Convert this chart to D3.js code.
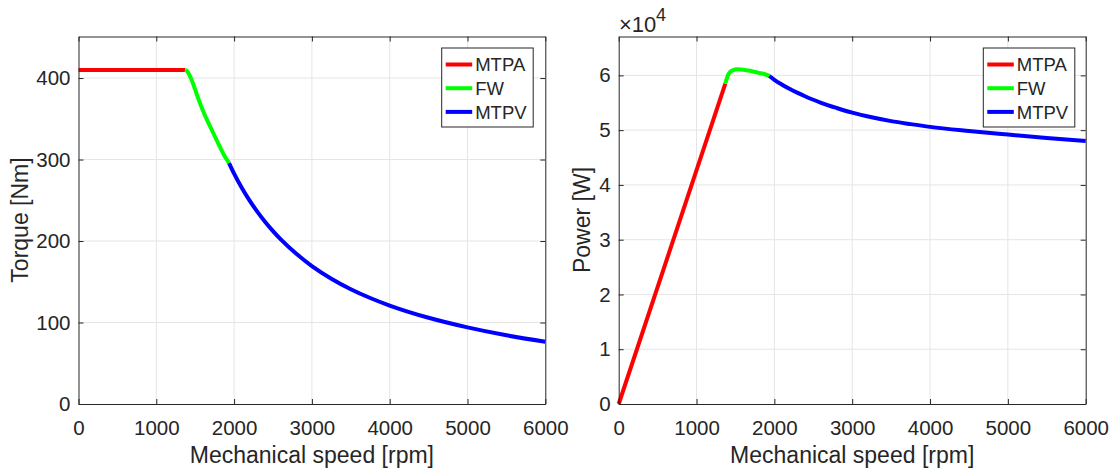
<!DOCTYPE html>
<html>
<head>
<meta charset="utf-8">
<script src="https://cdn.jsdelivr.net/npm/d3@7"></script>
<style>
  body { margin: 0; background: #fff; }
  text { font-family: "Liberation Sans", Arial, Helvetica, sans-serif; fill: #262626; }
</style>
</head>
<body>
<div id="chart"></div>
<script>
// speed [rpm] / torque [Nm]
const mtpaSpeed = [0, 1370];
const mtpaTorque = [410, 410];
const fwSpeed = [1370, 1400, 1430, 1470, 1520, 1600, 1700, 1800, 1870, 1936];
const fwTorque = [410, 408, 403, 394, 380, 360, 339, 319, 305.5, 295.5];
const mtpvSpeed = [1936, 2000, 2100, 2200, 2300, 2400, 2500, 2600, 2800, 3000, 3250, 3500, 3750, 4000, 4500, 5000, 5500, 6000];
const mtpvTorque = [295.5, 282.7, 265.1, 249.6, 235.8, 223.4, 212.2, 202, 184.3, 169.3, 153.8, 140.9, 130.1, 120.8, 105.8, 94, 84.3, 76.4];

// power [W]
const mtpaPower = [0, 58500];
const fwPower = [58500, 59900, 60600, 60950, 61100, 61050, 60800, 60450, 60250, 59900];
const mtpvPower = [59900, 59200, 58300, 57500, 56800, 56150, 55550, 55000, 54050, 53200, 52350, 51650, 51100, 50600, 49850, 49200, 48580, 48000];

const xTicks = [0, 1000, 2000, 3000, 4000, 5000, 6000];
const torqueTicks = [0, 100, 200, 300, 400];
const powerTicks = [0, 1, 2, 3, 4, 5, 6];
const legendNames = ["MTPA", "FW", "MTPV"];
const colors = ["#ff0000", "#00ff00", "#0000ff"];

const W = 1117, H = 476;
const svg = d3.select("#chart").append("svg").attr("width", W).attr("height", H);

function zip(xs, ys) { return xs.map((x, i) => [x, ys[i]]); }

function panel(opt) {
  const x = d3.scaleLinear().domain([0, 6000]).range([opt.left, opt.right]);
  const y = d3.scaleLinear().domain([0, opt.ymax]).range([404, 36.5]);
  const g = svg.append("g");

  // grid
  g.selectAll(".gx").data(xTicks.slice(1, -1)).enter().append("line")
    .attr("x1", d => x(d)).attr("x2", d => x(d))
    .attr("y1", y.range()[0]).attr("y2", y.range()[1])
    .attr("stroke", "#e5e5e5").attr("stroke-width", 1);
  g.selectAll(".gy").data(opt.yTicks.slice(1)).enter().append("line")
    .attr("x1", opt.left).attr("x2", opt.right)
    .attr("y1", d => y(d * opt.yMul)).attr("y2", d => y(d * opt.yMul))
    .attr("stroke", "#e5e5e5").attr("stroke-width", 1);

  // curves
  const line = d3.line().x(d => x(d[0])).y(d => y(d[1])).curve(d3.curveMonotoneX);
  opt.series.forEach((s, i) => {
    g.append("path").attr("d", line(s))
      .attr("fill", "none").attr("stroke", colors[i]).attr("stroke-width", 4)
      .attr("stroke-linejoin", "round");
  });

  // axes, matlab look: ticks inside, box on
  const fmt = d3.format("d");
  const yt = d3.scaleLinear().domain([0, opt.ymax / opt.yMul]).range(y.range());
  const axB = d3.axisBottom(x).tickValues(xTicks).tickSizeInner(-5).tickSizeOuter(0).tickPadding(16).tickFormat(fmt);
  const axT = d3.axisTop(x).tickValues(xTicks).tickSizeInner(-5).tickSizeOuter(0).tickFormat("");
  const axL = d3.axisLeft(yt).tickValues(opt.yTicks).tickSizeInner(-5).tickSizeOuter(0).tickPadding(8).tickFormat(fmt);
  const axR = d3.axisRight(yt).tickValues(opt.yTicks).tickSizeInner(-5).tickSizeOuter(0).tickFormat("");

  [[axB, "translate(0,404)"], [axT, "translate(0,36.5)"],
   [axL, `translate(${opt.left},0)`], [axR, `translate(${opt.right},0)`]].forEach(([a, t]) => {
    const ag = g.append("g").attr("transform", t).call(a);
    ag.select(".domain").attr("stroke", "#262626").attr("stroke-width", 1);
    ag.selectAll(".tick line").attr("stroke", "#262626");
    ag.selectAll(".tick text").style("font-size", "20.5px").attr("fill", "#262626")
      .style("font-family", "'Liberation Sans', Arial, sans-serif");
  });

  // labels
  g.append("text").attr("x", (opt.left + opt.right) / 2).attr("y", 463)
    .attr("text-anchor", "middle").style("font-size", "23px").text("Mechanical speed [rpm]");
  g.append("text").attr("transform", `translate(${opt.left - opt.labOff},220) rotate(-90)`)
    .attr("text-anchor", "middle").style("font-size", "23px").text(opt.ylabel);

  // legend
  const lg = g.append("g").attr("transform", `translate(${opt.legX},48)`);
  lg.append("rect").attr("x", 0).attr("y", 0).attr("width", 91.5).attr("height", 79)
    .attr("fill", "#fff").attr("stroke", "#262626").attr("stroke-width", 1);
  legendNames.forEach((n, i) => {
    const yy = 16.5 + i * 23.7;
    lg.append("line").attr("x1", 4).attr("x2", 30.5).attr("y1", yy).attr("y2", yy)
      .attr("stroke", colors[i]).attr("stroke-width", 4);
    lg.append("text").attr("x", 33.5).attr("y", yy + 6.8).style("font-size", "18.5px").text(n);
  });
  return g;
}

panel({
  left: 78.5, right: 545.3, ymax: 451, yMul: 1, yTicks: torqueTicks,
  ylabel: "Torque [Nm]", legX: 441.7, labOff: 51,
  series: [zip(mtpaSpeed, mtpaTorque), zip(fwSpeed, fwTorque), zip(mtpvSpeed, mtpvTorque)]
});

const p2 = panel({
  left: 618.7, right: 1085.7, ymax: 67100, yMul: 10000, yTicks: powerTicks,
  ylabel: "Power [W]", legX: 983.3, labOff: 29,
  series: [zip(mtpaSpeed, mtpaPower), zip(fwSpeed, fwPower), zip(mtpvSpeed, mtpvPower)]
});

// exponent label, drawn as separate texts so the sizes are explicit
svg.append("text").attr("x", 619).attr("y", 32).attr("font-size", 22)
  .style("font-size", "22px").text("\u00d710");
svg.append("text").attr("x", 656).attr("y", 21).attr("font-size", 18)
  .style("font-size", "18px").text("4");
</script>
</body>
</html>
